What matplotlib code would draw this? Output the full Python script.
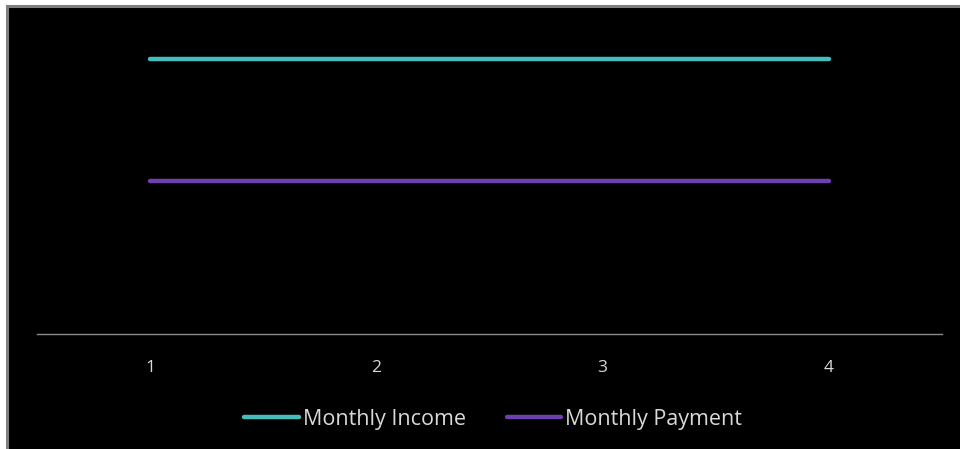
import matplotlib
matplotlib.use("Agg")
import matplotlib.pyplot as plt
from matplotlib.patches import Rectangle

categories = ["1", "2", "3", "4"]
monthly_income = [4500, 4500, 4500, 4500]
monthly_payment = [2500, 2500, 2500, 2500]

plt.rcParams['font.family'] = ['Open Sans', 'DejaVu Sans']

W, H = 960, 449
fig = plt.figure(figsize=(W / 100, H / 100), dpi=100, facecolor='white')

# black chart background with gray frame
bg = Rectangle((7 / W, -0.01), 1 - 7 / W + 0.01, 1 - 6 / H + 0.01, transform=fig.transFigure,
               facecolor='black', edgecolor='#7f7f7f', linewidth=2.2, zorder=-5)
fig.patches.append(bg)

ax = fig.add_axes([37 / W, 1 - 334 / H, (942 - 37) / W, (334 - 15) / H])
ax.set_zorder(2)
ax.set_facecolor('none')
x = list(range(1, len(categories) + 1))
ax.plot(x, monthly_income, color='#45BDBD', lw=3.2, solid_capstyle='round', label='Monthly Income')
ax.plot(x, monthly_payment, color='#6E3FAE', lw=3.2, solid_capstyle='round', label='Monthly Payment')
ax.set_xlim(0.5, len(categories) + 0.5)
ax.set_ylim(0, 5220)
ax.set_xticks(x)
ax.set_xticklabels(categories, color='#D9D9D9', fontsize=12.5)
ax.set_yticks([])
ax.tick_params(axis='x', length=0, pad=19)
for s in ['top', 'right', 'left']:
    ax.spines[s].set_visible(False)
ax.spines['bottom'].set_color('#8a8a8a')
ax.spines['bottom'].set_linewidth(1)

leg = fig.legend(loc='center', bbox_to_anchor=(493 / W, 1 - 419 / H), ncol=2, frameon=False,
                 fontsize=15.5, handlelength=2.55, handletextpad=0.15, columnspacing=1.9)
leg.set_zorder(3)
for t in leg.get_texts():
    t.set_color('#D9D9D9')

fig.savefig('out.png', dpi=100, facecolor='white')
